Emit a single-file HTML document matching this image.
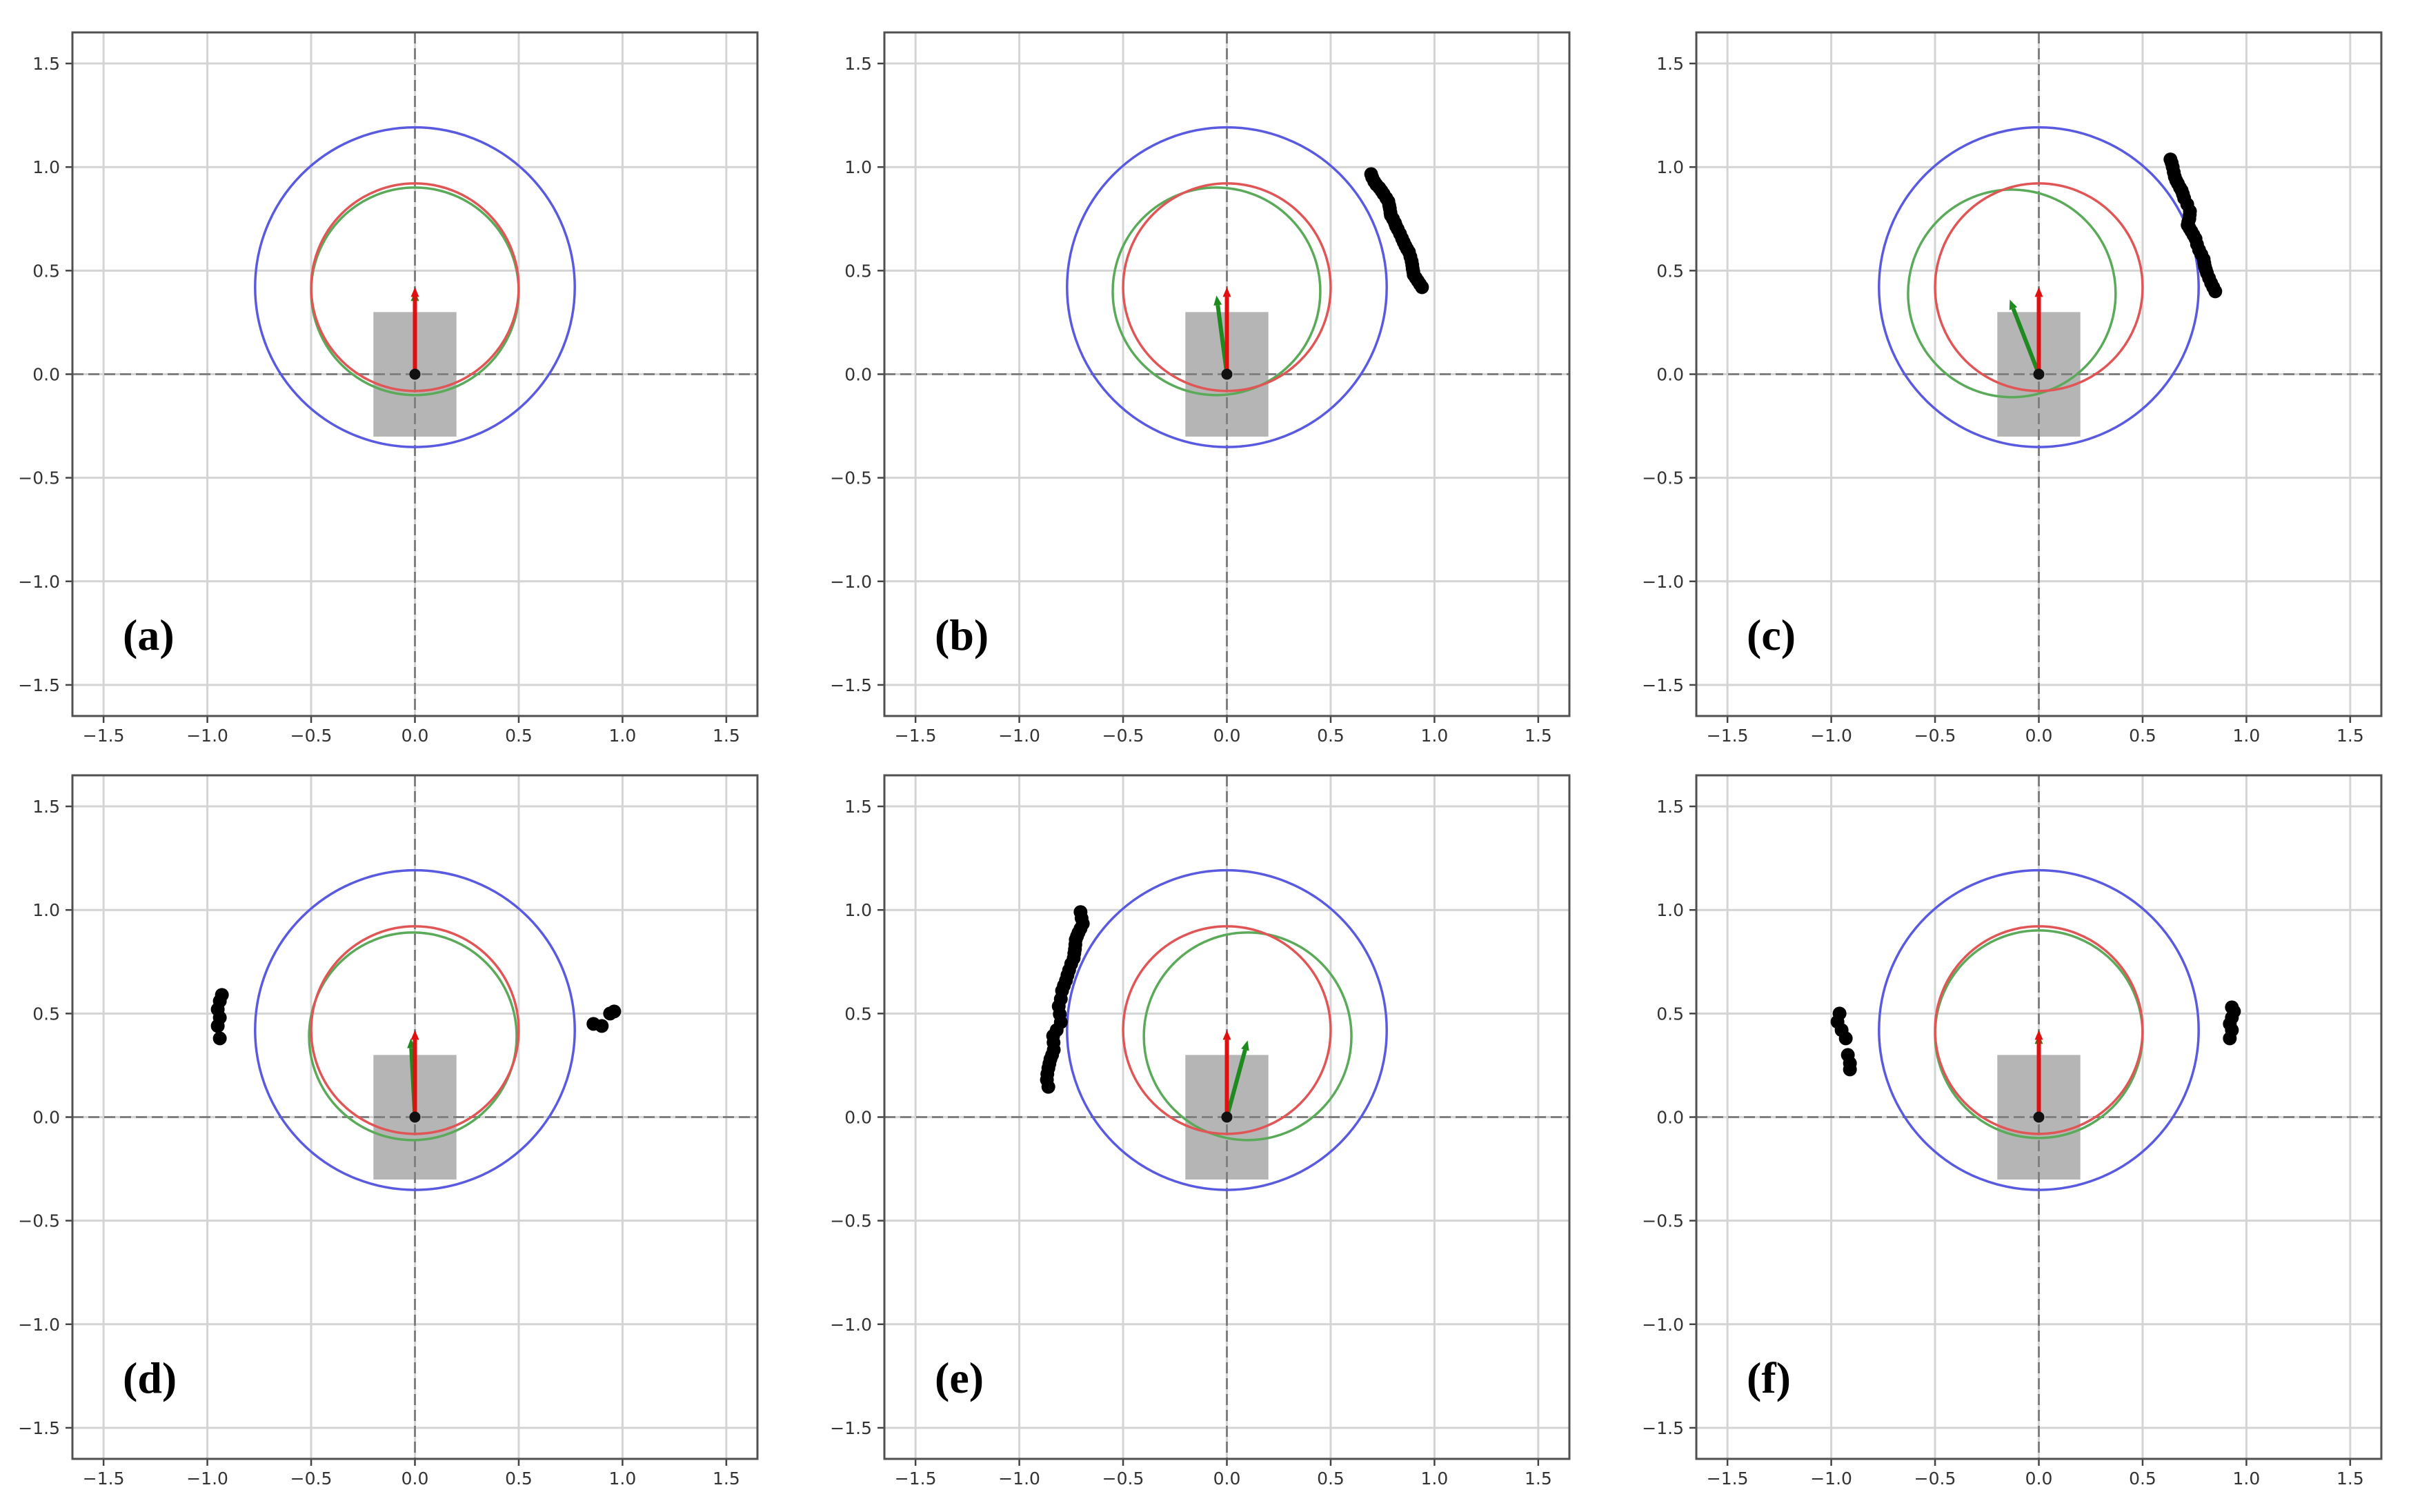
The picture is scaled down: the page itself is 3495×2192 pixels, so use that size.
<!DOCTYPE html>
<html><head><meta charset="utf-8"><style>
html,body{margin:0;padding:0;background:#fff;}
svg{display:block;}
</style></head><body>
<svg id="fig" width="3495" height="2192" xmlns="http://www.w3.org/2000/svg"></svg>
<script>
const panelLabels = ["(a)","(b)","(c)","(d)","(e)","(f)"];
const tickValues = [-1.5,-1.0,-0.5,0.0,0.5,1.0,1.5];
const tickLabels = ["\u22121.5","\u22121.0","\u22120.5","0.0","0.5","1.0","1.5"];
const blueCenter = [0,0.42], blueRadius = 0.77;
const redCenter = [0,0.42], redRadius = 0.5;
const redArrowTip = [0,0.42];
const robotRect = [-0.2,-0.3,0.2,0.3];
const greenCentersX = [0.0,-0.05,-0.13,-0.01,0.10,0.0];
const greenCentersY = [0.40,0.40,0.39,0.39,0.39,0.40];
const greenRadius = [0.5,0.5,0.5,0.5,0.5,0.5];
const greenTipX = [0.0,-0.05,-0.14,-0.02,0.10,0.0];
const greenTipY = [0.40,0.38,0.36,0.38,0.37,0.40];
const ptsA = [];
const ptsB = [[0.695,0.966],[0.70,0.95],[0.71,0.93],[0.72,0.915],[0.734,0.90],[0.745,0.885],[0.755,0.87],[0.768,0.85],[0.778,0.834],[0.782,0.815],[0.785,0.80],[0.788,0.78],[0.79,0.767],[0.80,0.75],[0.81,0.73],[0.815,0.715],[0.823,0.70],[0.834,0.678],[0.844,0.655],[0.852,0.637],[0.86,0.62],[0.868,0.605],[0.877,0.59],[0.884,0.567],[0.89,0.545],[0.893,0.527],[0.895,0.51],[0.898,0.495],[0.90,0.48],[0.91,0.465],[0.92,0.45],[0.93,0.435],[0.94,0.42]];
const ptsC = [[0.634,1.037],[0.64,1.02],[0.645,1.0],[0.65,0.975],[0.655,0.953],[0.662,0.935],[0.67,0.92],[0.68,0.90],[0.688,0.887],[0.694,0.87],[0.70,0.85],[0.715,0.82],[0.728,0.787],[0.727,0.77],[0.725,0.75],[0.72,0.735],[0.717,0.72],[0.726,0.705],[0.735,0.69],[0.745,0.672],[0.755,0.654],[0.762,0.627],[0.772,0.60],[0.783,0.578],[0.794,0.555],[0.797,0.537],[0.80,0.52],[0.805,0.504],[0.81,0.488],[0.82,0.464],[0.83,0.44],[0.84,0.42],[0.85,0.40]];
const ptsD = [[-0.93,0.59],[-0.94,0.56],[-0.95,0.52],[-0.94,0.48],[-0.95,0.44],[-0.94,0.38],[0.86,0.45],[0.90,0.44],[0.94,0.50],[0.96,0.51]];
const ptsE = [[-0.705,0.99],[-0.70,0.96],[-0.694,0.934],[-0.705,0.91],[-0.715,0.89],[-0.722,0.873],[-0.728,0.857],[-0.73,0.833],[-0.732,0.81],[-0.735,0.79],[-0.738,0.767],[-0.75,0.74],[-0.76,0.71],[-0.768,0.685],[-0.775,0.66],[-0.785,0.635],[-0.794,0.61],[-0.80,0.57],[-0.81,0.535],[-0.805,0.497],[-0.80,0.458],[-0.82,0.42],[-0.837,0.392],[-0.835,0.36],[-0.834,0.325],[-0.842,0.30],[-0.85,0.28],[-0.855,0.258],[-0.86,0.236],[-0.865,0.208],[-0.867,0.18],[-0.86,0.146]];
const ptsF = [[-0.96,0.50],[-0.97,0.46],[-0.95,0.42],[-0.93,0.38],[-0.92,0.30],[-0.91,0.26],[-0.91,0.23],[0.93,0.53],[0.94,0.51],[0.93,0.48],[0.92,0.45],[0.93,0.42],[0.92,0.38]];
const scatterSets = [ptsA,ptsB,ptsC,ptsD,ptsE,ptsF];

const NS="http://www.w3.org/2000/svg";
const svg=document.getElementById('fig');
const colLeft=[105,1282,2459], rowTop=[47,1124];
const W=993,H=991,LIM=1.65;
function mk(tag,attrs,parent){const e=document.createElementNS(NS,tag);for(const k in attrs)e.setAttribute(k,attrs[k]);parent.appendChild(e);return e;}
for(let p=0;p<6;p++){
  const L=colLeft[p%3],T=rowTop[Math.floor(p/3)];
  const sx=v=>L+(v+LIM)/(2*LIM)*W;
  const sy=v=>T+(LIM-v)/(2*LIM)*H;
  const su=W/(2*LIM);
  const g=mk('g',{},svg);
  
  
  tickValues.forEach((v,i)=>{
    const gl=mk('line',{x1:sx(v),x2:sx(v),y1:T,y2:T+H,stroke:'#d4d4d4','stroke-width':3},g);
    
    
    const gh=mk('line',{x1:L,x2:L+W,y1:sy(v),y2:sy(v),stroke:'#d4d4d4','stroke-width':3},g);
    
    
    const xt=mk('line',{x1:sx(v),x2:sx(v),y1:T+H,y2:T+H+10,stroke:'#444','stroke-width':2.5},g);
    
    
    const yt=mk('line',{x1:L-10,x2:L,y1:sy(v),y2:sy(v),stroke:'#444','stroke-width':2.5},g);
    
    
    const xl=mk('text',{x:sx(v),y:T+H+37,'text-anchor':'middle','font-family':'DejaVu Sans, Liberation Sans, sans-serif','font-size':25,fill:'#333'},g);
    xl.textContent=tickLabels[i];
    
    
    const yl=mk('text',{x:L-18,y:sy(v)+9,'text-anchor':'end','font-family':'DejaVu Sans, Liberation Sans, sans-serif','font-size':25,fill:'#333'},g);
    yl.textContent=tickLabels[i];
    
    
  });
  const r=mk('rect',{x:sx(robotRect[0]),y:sy(robotRect[3]),width:(robotRect[2]-robotRect[0])*su,height:(robotRect[3]-robotRect[1])*su,fill:'#b5b5b5'},g);
  
  
  const dh=mk('line',{x1:L,x2:L+W,y1:sy(0),y2:sy(0),stroke:'#808080','stroke-width':3,'stroke-dasharray':'16 7'},g);
  
  
  const dv=mk('line',{x1:sx(0),x2:sx(0),y1:T,y2:T+H,stroke:'#808080','stroke-width':3,'stroke-dasharray':'16 7'},g);
  
  
  const cb=mk('circle',{cx:sx(blueCenter[0]),cy:sy(blueCenter[1]),r:blueRadius*su,fill:'none',stroke:'#5a5ae0','stroke-width':3.5},g);
  
  
  const cg=mk('circle',{cx:sx(greenCentersX[p]),cy:sy(greenCentersY[p]),r:greenRadius[p]*su,fill:'none',stroke:'#5aaa5a','stroke-width':3.5},g);
  
  
  const cr=mk('circle',{cx:sx(redCenter[0]),cy:sy(redCenter[1]),r:redRadius*su,fill:'none',stroke:'#e05555','stroke-width':3.5},g);
  
  
  function arrow(tx,ty,col,name){
    const x0=sx(0),y0=sy(0),x1=sx(tx),y1=sy(ty);
    const dx=x1-x0,dy=y1-y0,len=Math.hypot(dx,dy),ux=dx/len,uy=dy/len;
    const hl=14,hw=6;
    const bx=x1-ux*hl,by=y1-uy*hl;
    const a=mk('g',{},g);
    
    
    mk('line',{x1:x0,y1:y0,x2:bx,y2:by,stroke:col,'stroke-width':6},a);
    mk('polygon',{points:`${x1},${y1} ${bx-uy*hw},${by+ux*hw} ${bx+uy*hw},${by-ux*hw}`,fill:col},a);
  }
  arrow(greenTipX[p],greenTipY[p],'#1f8a1f','green-arrow');
  arrow(redArrowTip[0],redArrowTip[1],'#e01010','red-arrow');
  const od=mk('circle',{cx:sx(0),cy:sy(0),r:8,fill:'#111'},g);
  
  
  scatterSets[p].forEach(pt=>{
    const c=mk('circle',{cx:sx(pt[0]),cy:sy(pt[1]),r:10,fill:'#000'},g);
    
    
  });
  const sp=mk('rect',{x:L,y:T,width:W,height:H,fill:'none',stroke:'#505050','stroke-width':3},g);
  
  
  const lb=mk('text',{x:L+73,y:T+895,'font-family':'Liberation Serif, serif','font-weight':'bold','font-size':64,fill:'#000'},g);
  lb.textContent=panelLabels[p];
  
  
}
</script>
</body></html>
